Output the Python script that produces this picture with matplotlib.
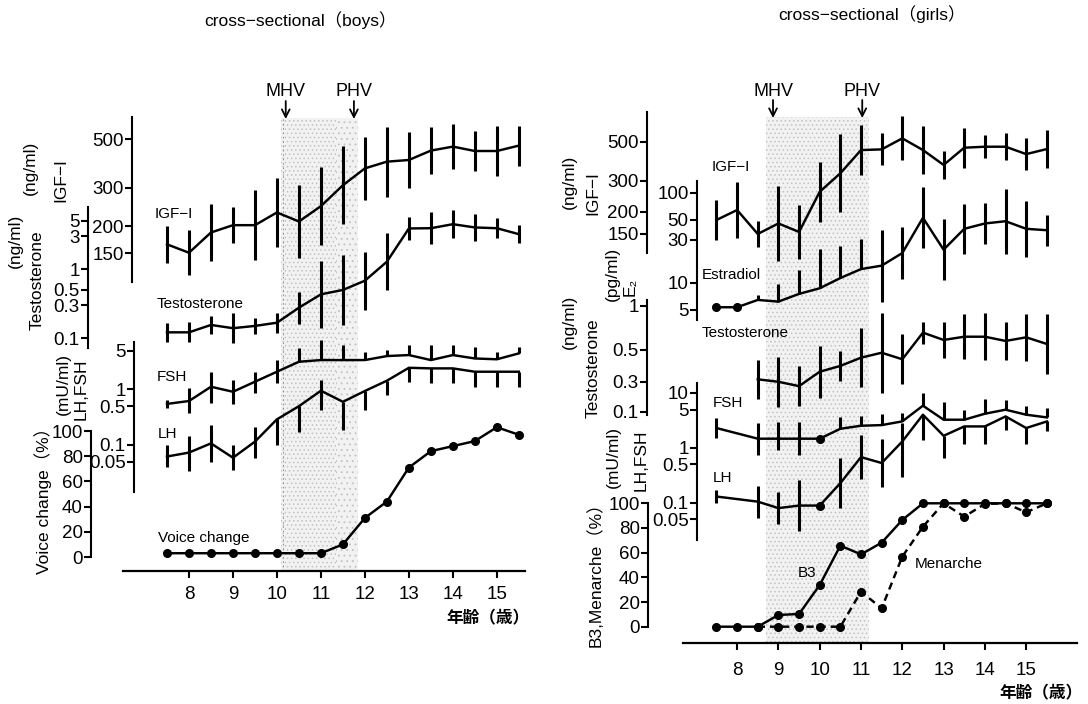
import numpy as np
import matplotlib
matplotlib.use("Agg")
import matplotlib.pyplot as plt
from matplotlib import font_manager
from matplotlib.ticker import FixedLocator, FixedFormatter, NullLocator

_avail = {f.name for f in font_manager.fontManager.ttflist}
NARROW = "Liberation Sans Narrow" if "Liberation Sans Narrow" in _avail else "Liberation Sans"
REG = "Liberation Sans"
CJK = "Noto Sans CJK JP"
plt.rcParams["font.family"] = [REG, CJK, "DejaVu Sans"]
plt.rcParams["hatch.linewidth"] = 0.6

# ---------------------------------------------------------------- data
ages = np.array([7.5, 8.0, 8.5, 9.0, 9.5, 10.0, 10.5, 11.0, 11.5,
                 12.0, 12.5, 13.0, 13.5, 14.0, 14.5, 15.0, 15.5])
year_ticks = [8, 9, 10, 11, 12, 13, 14, 15]
nan = np.nan

# boys (error bars given in log10 units above / below the mean)
boys_igf = [165, 151, 187, 202, 202, 231, 210, 247, 308, 368, 395, 402, 444, 463, 442, 442, 468]
boys_igf_err = [0.084, 0.103, 0.132, 0.084, 0.159, 0.158, 0.168, 0.18, 0.179, 0.145,
                0.16, 0.13, 0.107, 0.104, 0.093, 0.115, 0.092]
boys_t = [0.122, 0.122, 0.156, 0.14, 0.151, 0.168, 0.277, 0.432, 0.5, 0.68,
          1.28, 3.87, 3.9, 4.46, 4.0, 3.9, 3.2]
boys_t_err = [0.135, 0.144, 0.135, 0.216, 0.12, 0.144, 0.23, 0.48, 0.51, 0.42,
              0.41, 0.17, 0.23, 0.2, 0.19, 0.144, 0.13]
boys_fsh = [0.55, 0.62, 1.12, 0.91, 1.38, 2.09, 3.16, 3.39, 3.39, 3.39,
            4.0, 4.17, 3.39, 4.17, 3.62, 3.5, 4.47]
boys_fsh_up = [0.07, 0.23, 0.27, 0.21, 0.18, 0.21, 0.24, 0.36, 0.27, 0.15,
               0.11, 0.18, 0.27, 0.18, 0.21, 0.13, 0.12]
boys_fsh_dn = [0.07, 0.22, 0.3, 0.22, 0.21, 0.21, 0, 0, 0, 0, 0, 0, 0, 0, 0, 0, 0]
boys_lh = [0.062, 0.073, 0.107, 0.059, 0.115, 0.29, 0.5, 0.95, 0.6, 0.94,
           1.44, 2.46, 2.4, 2.4, 2.09, 2.09, 2.09]
boys_lh_up = [0.21, 0.29, 0.33, 0.23, 0.27, 0, 0, 0.19, 0, 0, 0, 0, 0, 0, 0, 0, 0]
boys_lh_dn = [0.18, 0.34, 0.33, 0.22, 0.3, 0.46, 0.46, 0.35, 0.5, 0.34,
              0.26, 0.25, 0.26, 0.27, 0.27, 0.28, 0.27]
boys_voice = [3, 3, 3, 3, 3, 3, 3, 3, 10, 31, 44, 71, 84, 88, 92, 103, 97]

# girls
girls_igf = [180, 205, 150, 172, 154, 260, 331, 448, 452, 522, 448, 369, 462, 468, 468, 425, 454]
girls_igf_err = [0.113, 0.159, 0.076, 0.215, 0.155, 0.17, 0.221, 0.142, 0.091, 0.125,
                 0.136, 0.079, 0.113, 0.066, 0.077, 0.091, 0.11]
girls_e2 = [5.36, 5.36, 6.46, 6.19, 7.54, 8.7, 11.3, 14.2, 15.5, 21.4,
            52.6, 23.3, 39.7, 45.5, 48.2, 39.7, 38.3]
girls_e2_up = [0, 0, 0.056, 0.2, 0.27, 0.43, 0.35, 0.33, 0.4, 0.29,
               0.34, 0.34, 0.28, 0.23, 0.36, 0.31, 0.17]
girls_e2_dn = [0, 0, 0, 0, 0, 0, 0, 0, 0.4, 0.29, 0.34, 0.34, 0.28, 0.23, 0.36, 0.31, 0.17]
girls_t = [nan, nan, 0.312, 0.30, 0.28, 0.352, 0.386, 0.44, 0.476, 0.429,
           0.655, 0.583, 0.614, 0.614, 0.574, 0.608, 0.547]
girls_t_err = [nan, nan, 0.133, 0.172, 0.138, 0.179, 0.103, 0.202, 0.276, 0.172,
               0.076, 0.126, 0.154, 0.161, 0.133, 0.161, 0.207]
girls_fsh = [2.3, nan, 1.47, 1.47, 1.47, 1.47, 2.23, 2.53, 2.6, 3.04,
             5.87, 3.26, 3.26, 4.19, 4.96, 4.02, 3.59]
girls_fsh_up = [0.18, nan, 0.29, 0.3, 0.3, 0, 0.22, 0.17, 0.2, 0.15,
                0.23, 0.32, 0.18, 0.26, 0.18, 0.15, 0.17]
girls_fsh_dn = [0.18, nan, 0.29, 0.2, 0.3, 0, 0, 0, 0, 0, 0, 0, 0, 0, 0, 0, 0]
girls_lh = [0.13, nan, 0.105, 0.08, 0.089, 0.089, 0.228, 0.68, 0.53, 1.31,
            4.02, 1.66, 2.46, 2.46, 3.74, 2.3, 3.03]
girls_lh_up = [0.11, nan, 0.29, 0.29, 0.47, 0, 0.46, 0.4, 0.43, 0.33, 0, 0, 0, 0, 0, 0, 0]
girls_lh_dn = [0.11, nan, 0.29, 0.29, 0.47, 0, 0.46, 0.4, 0.43, 0.64,
               0.46, 0.41, 0.32, 0.32, 0.24, 0.29, 0.18]
girls_b3 = [0, 0, 0, 9.5, 10.3, 33.8, 65.7, 58.6, 68.1, 86.5, 100, 100, 100, 100, 100, 100, 100]
girls_menarche = [nan, nan, 0, 0, 0, 0, 0, 28.4, 14.9, 56.8, 81.1, 100, 89.2, 99.5, 100, 92.7, 100]

boys_mhv, boys_phv = 10.2, 11.75
girls_mhv, girls_phv = 8.87, 11.03
boys_shade = [(10.1, 11.35, "...."), (11.35, 11.85, "...")]
girls_shade = [(8.7, 11.2, "....")]

# ---------------------------------------------------------------- figure
W, H = 1088, 704
fig = plt.figure(figsize=(W / 100, H / 100), dpi=100)
fig.patch.set_facecolor("white")

TICK_FS = 13.5
LAB_FS = 12.5
NAME_FS = 11


def base_axis(x0, x1, ytop, yaxis, xlim, shade, mhv, phv, pad, edge=None):
    ax = fig.add_axes([x0 / W, 1 - yaxis / H, (x1 - x0) / W, (yaxis - ytop) / H])
    ax.patch.set_visible(False)
    ax.set_xlim(*xlim)
    ax.set_ylim(0, 1)
    for s in ("left", "right", "top"):
        ax.spines[s].set_visible(False)
    ax.spines["bottom"].set_linewidth(1.6)
    ax.set_yticks([])
    ax.set_xticks(year_ticks)
    ax.set_xticklabels([str(t) for t in year_ticks])
    ax.tick_params(axis="x", direction="out", length=5, width=1.5, pad=pad,
                   labelsize=13.5, labelfontfamily=REG)
    for a, b, hatch in shade:
        ax.axvspan(a, b, facecolor="#f2f2f2", edgecolor="#c2c2c2",
                   hatch=hatch, linewidth=0, zorder=0)
    if edge is not None:
        ax.axvline(edge, color="#8a8a8a", lw=0.7, ls=(0, (1.5, 3)), zorder=0.5)
    h = yaxis - ytop
    tr = ax.get_xaxis_transform()
    for xv, name in ((mhv, "MHV"), (phv, "PHV")):
        ax.annotate("", xy=(xv, 1 - 1.0 / h), xytext=(xv, 1 + 17.0 / h),
                    xycoords=tr, textcoords=tr,
                    arrowprops=dict(arrowstyle="->,head_length=0.55,head_width=0.28",
                                    lw=1.3, color="k", shrinkA=0, shrinkB=0),
                    annotation_clip=False)
        ax.text(xv, 1 + 26.0 / h, name, transform=tr, ha="center", va="center",
                fontsize=13, family=REG)
    return ax


def sub_axis(x0, x1, xlim, spine_x, ytop, ybot, ylim, log, ticks, labels=None):
    ax = fig.add_axes([x0 / W, 1 - ybot / H, (x1 - x0) / W, (ybot - ytop) / H])
    ax.patch.set_visible(False)
    if log:
        ax.set_yscale("log")
    ax.set_ylim(*ylim)
    ax.set_xlim(*xlim)
    for s in ("right", "top", "bottom"):
        ax.spines[s].set_visible(False)
    ax.spines["left"].set_position(("axes", (spine_x - x0) / (x1 - x0)))
    ax.spines["left"].set_linewidth(1.5)
    ax.xaxis.set_visible(False)
    ax.yaxis.set_major_locator(FixedLocator(ticks))
    ax.yaxis.set_major_formatter(FixedFormatter(labels if labels else [f"{t:g}" for t in ticks]))
    ax.yaxis.set_minor_locator(NullLocator())
    ax.tick_params(axis="y", direction="out", length=5, width=1.5, pad=1,
                   labelsize=TICK_FS, labelfontfamily=NARROW)
    return ax


def series(ax, y, up=None, dn=None, marks=None, dashed=False):
    y = np.asarray(y, float)
    m = ~np.isnan(y)
    ax.plot(ages[m], y[m], color="k", lw=1.75,
            ls=(0, (3, 2)) if dashed else "-", clip_on=False, zorder=3)
    if up is not None:
        up = np.nan_to_num(np.asarray(up, float))
        dn = np.nan_to_num(np.asarray(dn, float))
        lo = y / 10 ** dn
        hi = y * 10 ** up
        k = m & ((up > 0) | (dn > 0))
        ax.vlines(ages[k], lo[k], hi[k], colors="k", lw=2.2, clip_on=False, zorder=3)
    if marks is not None:
        mk = np.zeros(len(ages), bool)
        mk[list(marks)] = True
        mk &= m
        ax.plot(ages[mk], y[mk], "o", color="k", ms=5.5, clip_on=False, zorder=4)


def txt(x, y, s, size=NAME_FS, rot=0, ha="left", fam=None, **kw):
    fig.text(x / W, 1 - y / H, s, fontsize=size, rotation=rot, ha=ha, va="center",
             family=fam if fam else [NARROW, CJK, "DejaVu Sans"], **kw)


def vlabel(x, y, s, size=LAB_FS):
    fig.text(x / W, 1 - y / H, s, fontsize=size, rotation=90, ha="center", va="center",
             family=[NARROW, CJK, "DejaVu Sans"])


ALL = range(len(ages))

# ---------------------------------------------------------------- boys panel
BX0, BX1, BXLIM = 123, 525, (6.5, 15.64)
base_axis(BX0, BX1, 118, 571, BXLIM, boys_shade, boys_mhv, boys_phv, pad=6, edge=10.13)

ax = sub_axis(BX0, BX1, BXLIM, 132, 116.7, 281.7, (111.2, 635), True, [150, 200, 300, 500])
series(ax, boys_igf, boys_igf_err, boys_igf_err)
ax = sub_axis(BX0, BX1, BXLIM, 88, 206.7, 348.3, (0.0717, 7.98), True, [0.1, 0.3, 0.5, 1, 3, 5])
series(ax, boys_t, boys_t_err, boys_t_err)
ax = sub_axis(BX0, BX1, BXLIM, 134, 341.7, 491.7, (0.01441, 7.26), True, [0.05, 0.1, 0.5, 1, 5])
series(ax, boys_fsh, boys_fsh_up, boys_fsh_dn)
series(ax, boys_lh, boys_lh_up, boys_lh_dn)
ax = sub_axis(BX0, BX1, BXLIM, 91, 431, 557, (0, 100), False, [0, 20, 40, 60, 80, 100])
series(ax, boys_voice, marks=ALL)

# ---------------------------------------------------------------- girls panel
GX0, GX1, GXLIM = 683, 1077, (6.69, 16.23)
base_axis(GX0, GX1, 117, 643, GXLIM, girls_shade, girls_mhv, girls_phv, pad=9)

ax = sub_axis(GX0, GX1, GXLIM, 647, 112, 253, (117, 736), True, [150, 200, 300, 500])
series(ax, girls_igf, girls_igf_err, girls_igf_err)
ax = sub_axis(GX0, GX1, GXLIM, 697, 181, 320, (3.87, 134.6), True, [5, 10, 30, 50, 100])
series(ax, girls_e2, girls_e2_up, girls_e2_dn, marks=[0, 1])
# the original draws its lowest "0.1" tick compressed just under 0.3
ax = sub_axis(GX0, GX1, GXLIM, 647, 300, 415, (0.177, 1.1), True,
              [0.186, 0.3, 0.5, 1], ["0.1", "0.3", "0.5", "1"])
series(ax, girls_t, girls_t_err, girls_t_err)
ax = sub_axis(GX0, GX1, GXLIM, 697, 383, 540, (0.021, 15.2), True, [0.05, 0.1, 0.5, 1, 5, 10])
series(ax, girls_fsh, girls_fsh_up, girls_fsh_dn, marks=[5])
series(ax, girls_lh, girls_lh_up, girls_lh_dn, marks=[5])
ax = sub_axis(GX0, GX1, GXLIM, 648, 503.3, 626.7, (0, 100), False, [0, 20, 40, 60, 80, 100])
series(ax, girls_b3, marks=ALL)
series(ax, girls_menarche, marks=ALL, dashed=True)

# ---------------------------------------------------------------- texts
txt(300, 20, "cross−sectional（boys）", size=12.5, ha="center", fam=[REG, CJK])
txt(872, 14, "cross−sectional（girls）", size=12.5, ha="center", fam=[REG, CJK])
txt(488, 618, "年齢（歳）", size=12, ha="center", fam=[CJK], weight="bold")
txt(1041, 693, "年齢（歳）", size=12, ha="center", fam=[CJK], weight="bold")

# boys axis titles
vlabel(30, 168, "(ng/ml)")
vlabel(61, 180, "IGF−I")
vlabel(15, 241, "(ng/ml)")
vlabel(37, 280, "Testosterone")
vlabel(63, 384, "(mU/ml)")
vlabel(81, 389, "LH,FSH")
vlabel(43, 496, "Voice change（%）")
# girls axis titles
vlabel(569, 182, "(ng/ml)")
vlabel(593, 193, "IGF−I")
vlabel(612, 274, "(pg/ml)")
vlabel(630, 287, "E₂")
vlabel(569, 322, "(ng/ml)")
vlabel(593, 368, "Testosterone")
vlabel(613, 457, "(mU/ml)")
vlabel(641, 460, "LH,FSH")
vlabel(595, 570, "B3,Menarche（%）")

# series names
txt(155, 214, "IGF−I")
txt(157, 304, "Testosterone")
txt(157, 377, "FSH")
txt(158, 434, "LH")
txt(158, 538, "Voice change")
txt(712, 167, "IGF−I")
txt(702, 275, "Estradiol")
txt(702, 333, "Testosterone")
txt(713, 403, "FSH")
txt(713, 478, "LH")
txt(798, 573, "B3")
txt(915, 564, "Menarche")

fig.savefig("out.png", dpi=100, facecolor="white")
